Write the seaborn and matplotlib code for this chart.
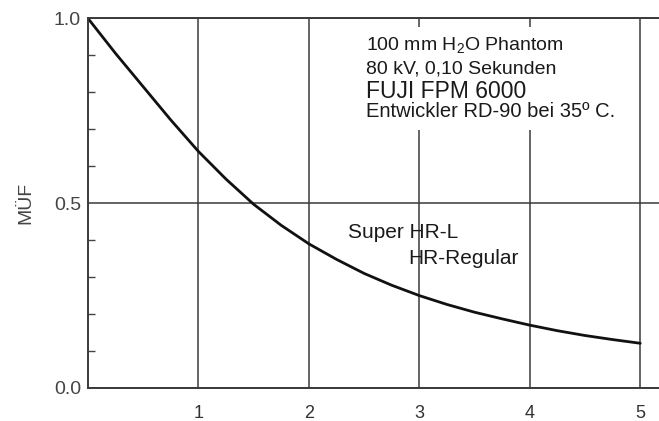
import numpy as np
import pandas as pd
import seaborn as sns
import matplotlib.pyplot as plt
from matplotlib.ticker import MultipleLocator

# values (line pairs / mm -> MÜF)
freq = [0, 0.25, 0.5, 0.75, 1.0, 1.25, 1.5, 1.75, 2.0, 2.25, 2.5, 2.75, 3.0,
        3.25, 3.5, 3.75, 4.0, 4.25, 4.5, 4.75, 5.0]
muef = [1.0, 0.905, 0.815, 0.725, 0.64, 0.565, 0.497, 0.44, 0.39, 0.348, 0.31, 0.278, 0.25,
        0.226, 0.205, 0.187, 0.17, 0.155, 0.142, 0.131, 0.121]

x_ticks = [1, 2, 3, 4, 5]
y_ticks = [0.0, 0.5, 1.0]
y_ticklabels = ['0.0', '0.5', '1.0']

info_lines = ['100 mm H$_2$O Phantom', '80 kV, 0,10 Sekunden', 'FUJI FPM 6000',
              'Entwickler RD-90 bei 35\u00ba C.']
film_labels = ['Super HR-L', 'HR-Regular']

df = pd.DataFrame({'freq': freq, 'muef': muef})

sns.set_theme(style='white')
plt.rcParams['font.family'] = ['Liberation Sans', 'DejaVu Sans']
plt.rcParams['mathtext.fontset'] = 'custom'
plt.rcParams['mathtext.rm'] = 'Liberation Sans'

fig = plt.figure(figsize=(6.59, 4.21), dpi=100)
ax = fig.add_axes([0.1335, 0.0784, 0.8665, 0.878])

sns.lineplot(data=df, x='freq', y='muef', color='#111111', lw=2.0, ax=ax)

ax.set_xlim(0, 5.17)
ax.set_ylim(0, 1)
ax.set_xticks(x_ticks)
ax.set_xticklabels([str(t) for t in x_ticks])
ax.set_yticks(y_ticks)
ax.set_yticklabels(y_ticklabels)
ax.yaxis.set_minor_locator(MultipleLocator(0.1))
ax.tick_params(axis='x', length=0, pad=12, labelsize=13, colors='#333333')
ax.tick_params(axis='y', which='major', length=0, pad=5, labelsize=14, colors='#444444')
ax.tick_params(axis='y', which='minor', direction='in', length=5, width=1, color='#444444', left=True)

ax.grid(True, which='major', color='#3a3a3a', lw=1.1)
for side in ['left', 'bottom', 'top']:
    ax.spines[side].set_color('#3a3a3a')
    ax.spines[side].set_linewidth(1.4)
ax.spines['right'].set_visible(False)

ax.set_xlabel('')
ax.set_ylabel('MÜF', fontsize=14, color='#444444', labelpad=14)

# white box behind the exposure info
ax.add_patch(plt.Rectangle((2.46, 0.698), 2.48, 0.278, transform=ax.transData,
                           facecolor='white', edgecolor='none', zorder=3))
ys = [0.925, 0.863, 0.802, 0.748]
sizes = [14, 14, 16.5, 14.5]
for txt, yy, fs in zip(info_lines, ys, sizes):
    ax.text(2.52, yy, txt, fontsize=fs, color='#1a1a1a', va='center', ha='left', zorder=4)

ax.text(2.35, 0.42, film_labels[0], fontsize=15, color='#1a1a1a', va='center', ha='left', zorder=4)
ax.text(2.9, 0.35, film_labels[1], fontsize=15, color='#1a1a1a', va='center', ha='left', zorder=4)

fig.savefig('out.png', dpi=100)
